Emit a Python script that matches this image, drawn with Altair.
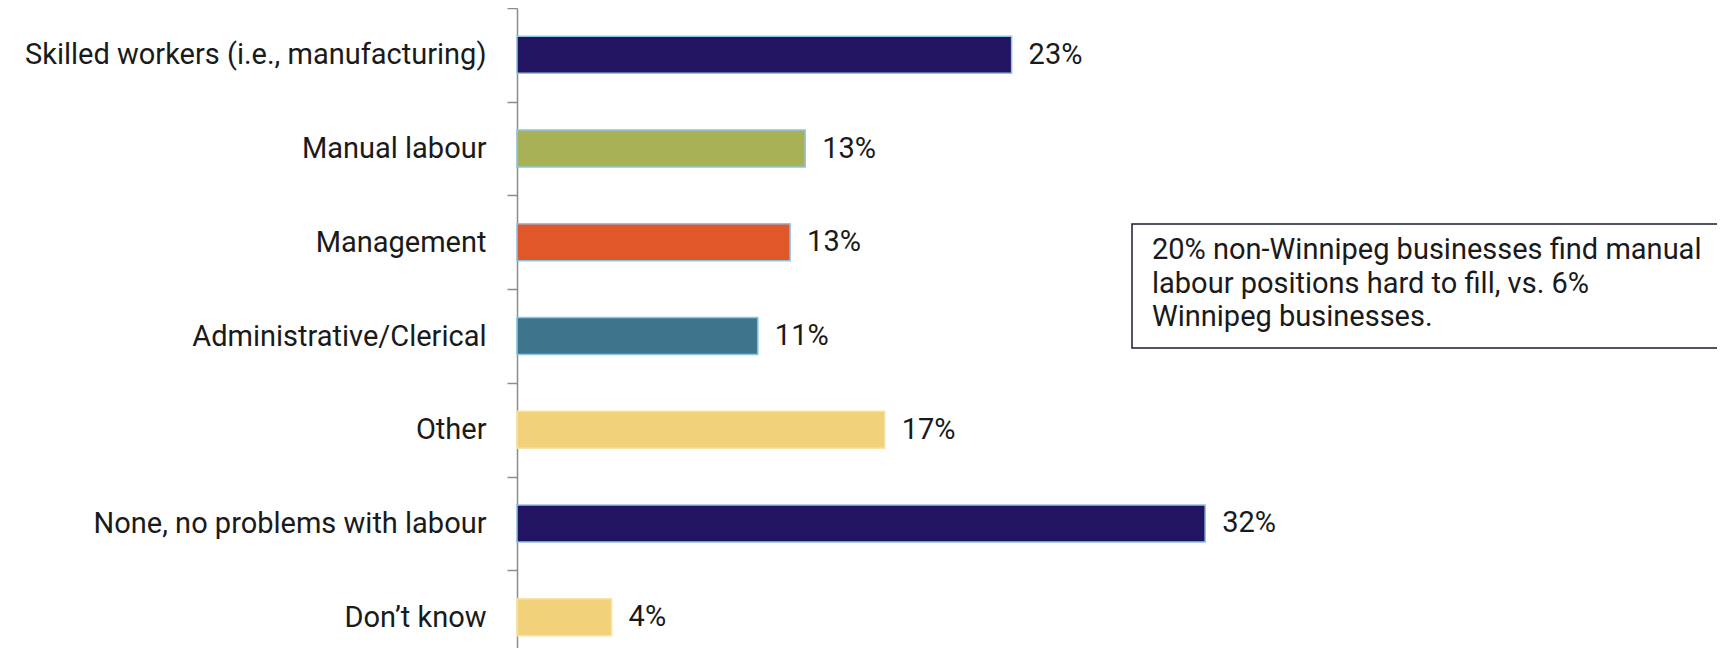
import altair as alt
import pandas as pd

categories = [
    "Skilled workers (i.e., manufacturing)",
    "Manual labour",
    "Management",
    "Administrative/Clerical",
    "Other",
    "None, no problems with labour",
    "Don’t know",
]
values = [23.0, 13.4, 12.7, 11.2, 17.1, 32.0, 4.4]
labels = ["23%", "13%", "13%", "11%", "17%", "32%", "4%"]
fills = ["#231462", "#a8b155", "#e0582a", "#3e758d", "#f2d17b", "#231462", "#f2d17b"]
strokes = ["#8ec5e4", "#8ec5e4", "#8ec5e4", "#8ec5e4", "#f7e3a8", "#8ec5e4", "#f7e3a8"]
note_lines = [
    "20% non-Winnipeg businesses find manual",
    "labour positions hard to fill, vs. 6%",
    "Winnipeg businesses.",
]

FONT = "Roboto"

df = pd.DataFrame({
    "category": categories,
    "value": values,
    "label": labels,
    "fill": fills,
    "stroke": strokes,
})

y_enc = alt.Y(
    "category:N",
    sort=categories,
    scale=alt.Scale(paddingInner=0, paddingOuter=0, range=[0, 656]),
    axis=alt.Axis(
        title=None,
        tickBand="extent",
        labelFontSize=29,
        labelFont=FONT,
        labelColor="#1a1a1a",
        labelPadding=21,
        labelLimit=700,
        tickSize=10,
        tickColor="#8c8c8c",
        tickWidth=1.5,
        domainColor="#8c8c8c",
        domainWidth=1.5,
        grid=False,
    ),
)
x_enc = alt.X("value:Q", scale=alt.Scale(domain=[0, 55.8], nice=False), axis=None)

bars = alt.Chart(df).mark_bar(
    strokeWidth=1.5, height=alt.RelativeBandSize(band=0.395)
).encode(
    x=x_enc,
    y=y_enc,
    fill=alt.Fill("fill:N", scale=None),
    stroke=alt.Stroke("stroke:N", scale=None),
)

text = alt.Chart(df).mark_text(
    align="left", baseline="middle", dx=17, fontSize=29, font=FONT, color="#1a1a1a"
).encode(x=x_enc, y=y_enc, text="label:N")

note_df = pd.DataFrame({"note": [0]})
box = alt.Chart(note_df).mark_rect(
    fill="white", stroke="#1a1a2e", strokeWidth=1.5
).encode(
    x=alt.value(615), x2=alt.value(1230), y=alt.value(216), y2=alt.value(340)
)
note = alt.Chart(note_df).mark_text(
    align="left", baseline="alphabetic", fontSize=29, font=FONT, color="#1a1a1a", lineHeight=33.5
).encode(
    x=alt.value(635), y=alt.value(251), text=alt.value(note_lines)
)

chart = alt.layer(bars, text, box, note).properties(
    width=1200,
    height=640,
    padding={"left": 509, "top": 0, "right": 0, "bottom": 0},
    autosize=alt.AutoSizeParams(type="none"),
).configure_view(stroke=None)

chart.save("out.html", embed_options={"renderer": "svg", "actions": False})
